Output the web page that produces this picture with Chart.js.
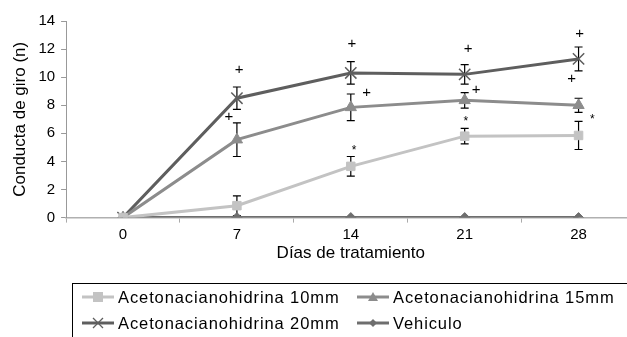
<!DOCTYPE html>
<html>
<head>
<meta charset="utf-8">
<script src="https://cdn.jsdelivr.net/npm/chart.js@4.4.0/dist/chart.umd.min.js"></script>
<style>
  body { margin: 0; background: #fff; overflow: hidden; }
  #wrap { position: relative; width: 627px; height: 337px; overflow: hidden; }
  #chartBox { position: absolute; left: 0; top: 0; width: 645px; height: 337px; }
  #legend {
    position: absolute; left: 72px; top: 283px; width: 620px; height: 80px;
    border: 1px solid #000; box-sizing: border-box;
    font-family: "Liberation Sans", Arial, sans-serif; font-size: 16.5px; letter-spacing: 0.9px; color: #000;
  }
  .item { position: absolute; display: flex; align-items: center; height: 20px; }
  .item svg { margin-right: 4px; }
</style>
</head>
<body>
<div id="wrap">
  <div id="chartBox"><canvas id="myChart" width="645" height="337"></canvas></div>
  <div id="legend"></div>
</div>
<script>
// data
const days = ["0", "7", "14", "21", "28"];
const yTicks = [0, 2, 4, 6, 8, 10, 12, 14];

const dose10 = [0, 0.85, 3.65, 5.8, 5.85];
const dose10Err = [0, 0.7, 0.7, 0.55, 1.0];
const dose15 = [0, 5.55, 7.85, 8.35, 8.0];
const dose15Err = [0, 1.2, 0.95, 0.55, 0.5];
const dose20 = [0, 8.5, 10.3, 10.2, 11.3];
const dose20Err = [0, 0.8, 0.8, 0.7, 0.85];
const vehiculo = [0, 0, 0, 0, 0];

// significance marks (category index, value, symbol)
const markIdx = [1.02, 0.93, 2.01, 2.14, 2.03, 3.03, 3.10, 3.01, 4.01, 3.94, 4.12];
const markVal = [10.5, 7.2, 12.35, 8.9, 5.0, 12.05, 9.1, 7.05, 13.05, 9.85, 7.2];
const markTxt = ["+", "+", "+", "+", "*", "+", "+", "*", "+", "+", "*"];

const names = ["Acetonacianohidrina 10mm", "Acetonacianohidrina 15mm",
               "Acetonacianohidrina 20mm", "Vehiculo"];

const FONT = "'Liberation Sans', Arial, sans-serif";

// error bars (behind the lines) + significance marks (on top)
const extras = {
  id: "extras",
  beforeDatasetsDraw(chart) {
    const ctx = chart.ctx;
    const xs = chart.scales.x, ys = chart.scales.y;
    const sets = [[dose10, dose10Err], [dose15, dose15Err], [dose20, dose20Err]];
    ctx.save();
    ctx.strokeStyle = "#000";
    ctx.lineWidth = 1.2;
    sets.forEach(([vals, errs]) => {
      vals.forEach((v, i) => {
        if (!errs[i]) return;
        const x = xs.getPixelForValue(i);
        const top = ys.getPixelForValue(v + errs[i]);
        const bot = ys.getPixelForValue(v - errs[i]);
        ctx.beginPath();
        ctx.moveTo(x, top); ctx.lineTo(x, bot);
        ctx.moveTo(x - 4, top); ctx.lineTo(x + 4, top);
        ctx.moveTo(x - 4, bot); ctx.lineTo(x + 4, bot);
        ctx.stroke();
      });
    });
    ctx.restore();
  },
  afterDatasetsDraw(chart) {
    const ctx = chart.ctx;
    const xs = chart.scales.x, ys = chart.scales.y;
    ctx.save();
    ctx.fillStyle = "#000";
    ctx.textAlign = "center";
    ctx.textBaseline = "middle";
    markTxt.forEach((t, i) => {
      ctx.font = (t === "+" ? "15px " : "12px ") + FONT;
      ctx.fillText(t, xs.getPixelForValue(markIdx[i]), ys.getPixelForValue(markVal[i]) + (t === "*" ? 3 : 0));
    });
    ctx.restore();
  }
};

const ctx = document.getElementById("myChart").getContext("2d");
const chart = new Chart(ctx, {
  type: "line",
  data: {
    labels: days,
    datasets: [
      { label: names[0], data: dose10, borderColor: "#c3c3c3", backgroundColor: "#c3c3c3",
        borderWidth: 3, pointStyle: "rect", pointRadius: 6, pointBorderWidth: 1 },
      { label: names[1], data: dose15, borderColor: "#8c8c8c", backgroundColor: "#8c8c8c",
        borderWidth: 3, pointStyle: "triangle", pointRadius: 6.5, pointBorderWidth: 1 },
      { label: names[2], data: dose20, borderColor: "#5e5e5e", backgroundColor: "#5e5e5e",
        borderWidth: 3, pointStyle: "crossRot", pointRadius: 8, pointBorderWidth: 1.5 },
      { label: names[3], data: vehiculo, borderColor: "#6e6e6e", backgroundColor: "#6e6e6e",
        borderWidth: 3, pointStyle: "rectRot", pointRadius: 5, pointBorderWidth: 1 }
    ]
  },
  options: {
    responsive: false,
    animation: false,
    layout: { padding: { top: 21, right: 0, bottom: 73, left: 10 } },
    plugins: { legend: { display: false }, tooltip: { enabled: false } },
    scales: {
      x: {
        offset: true,
        grid: { offset: true, drawOnChartArea: false, tickLength: 5, color: "#aaa" },
        border: { color: "#b0b0b0", width: 1.5 },
        ticks: { color: "#000", font: { family: FONT, size: 15 }, padding: 3 },
        title: { display: true, text: "Días de tratamiento", color: "#000",
                 font: { family: FONT, size: 17 }, padding: { top: -3, bottom: 0 } }
      },
      y: {
        min: 0, max: 14,
        afterBuildTicks: (axis) => { axis.ticks = yTicks.map(v => ({ value: v })); },
        grid: { drawOnChartArea: false, tickLength: 5, color: "#999" },
        border: { color: "#999", width: 1 },
        ticks: { color: "#000", font: { family: FONT, size: 15 }, padding: 6 },
        title: { display: true, text: "Conducta de giro (n)", color: "#000",
                 font: { family: FONT, size: 17 }, padding: { top: 0, bottom: 2 } }
      }
    }
  },
  plugins: [extras]
});

// legend below the plot, in a bordered box
function icon(ds) {
  const c = ds.borderColor;
  let m = "";
  if (ds.pointStyle === "rect") m = `<rect x="11" y="3" width="10" height="10" fill="${c}"/>`;
  if (ds.pointStyle === "triangle") m = `<polygon points="16,3 21,12 11,12" fill="${c}"/>`;
  if (ds.pointStyle === "crossRot") m = `<path d="M11 3 L21 13 M21 3 L11 13" stroke="${c}" stroke-width="1.3"/>`;
  if (ds.pointStyle === "rectRot") m = `<polygon points="16,4 20,8 16,12 12,8" fill="${c}"/>`;
  return `<svg width="32" height="16"><line x1="0" y1="8" x2="32" y2="8" stroke="${c}" stroke-width="3"/>${m}</svg>`;
}
const pos = [[9, 3], [284, 3], [9, 29], [284, 29]];
document.getElementById("legend").innerHTML = chart.data.datasets.map((ds, i) =>
  `<div class="item" style="left:${pos[i][0]}px;top:${pos[i][1]}px">${icon(ds)}<span>${ds.label}</span></div>`
).join("");
</script>
</body>
</html>
